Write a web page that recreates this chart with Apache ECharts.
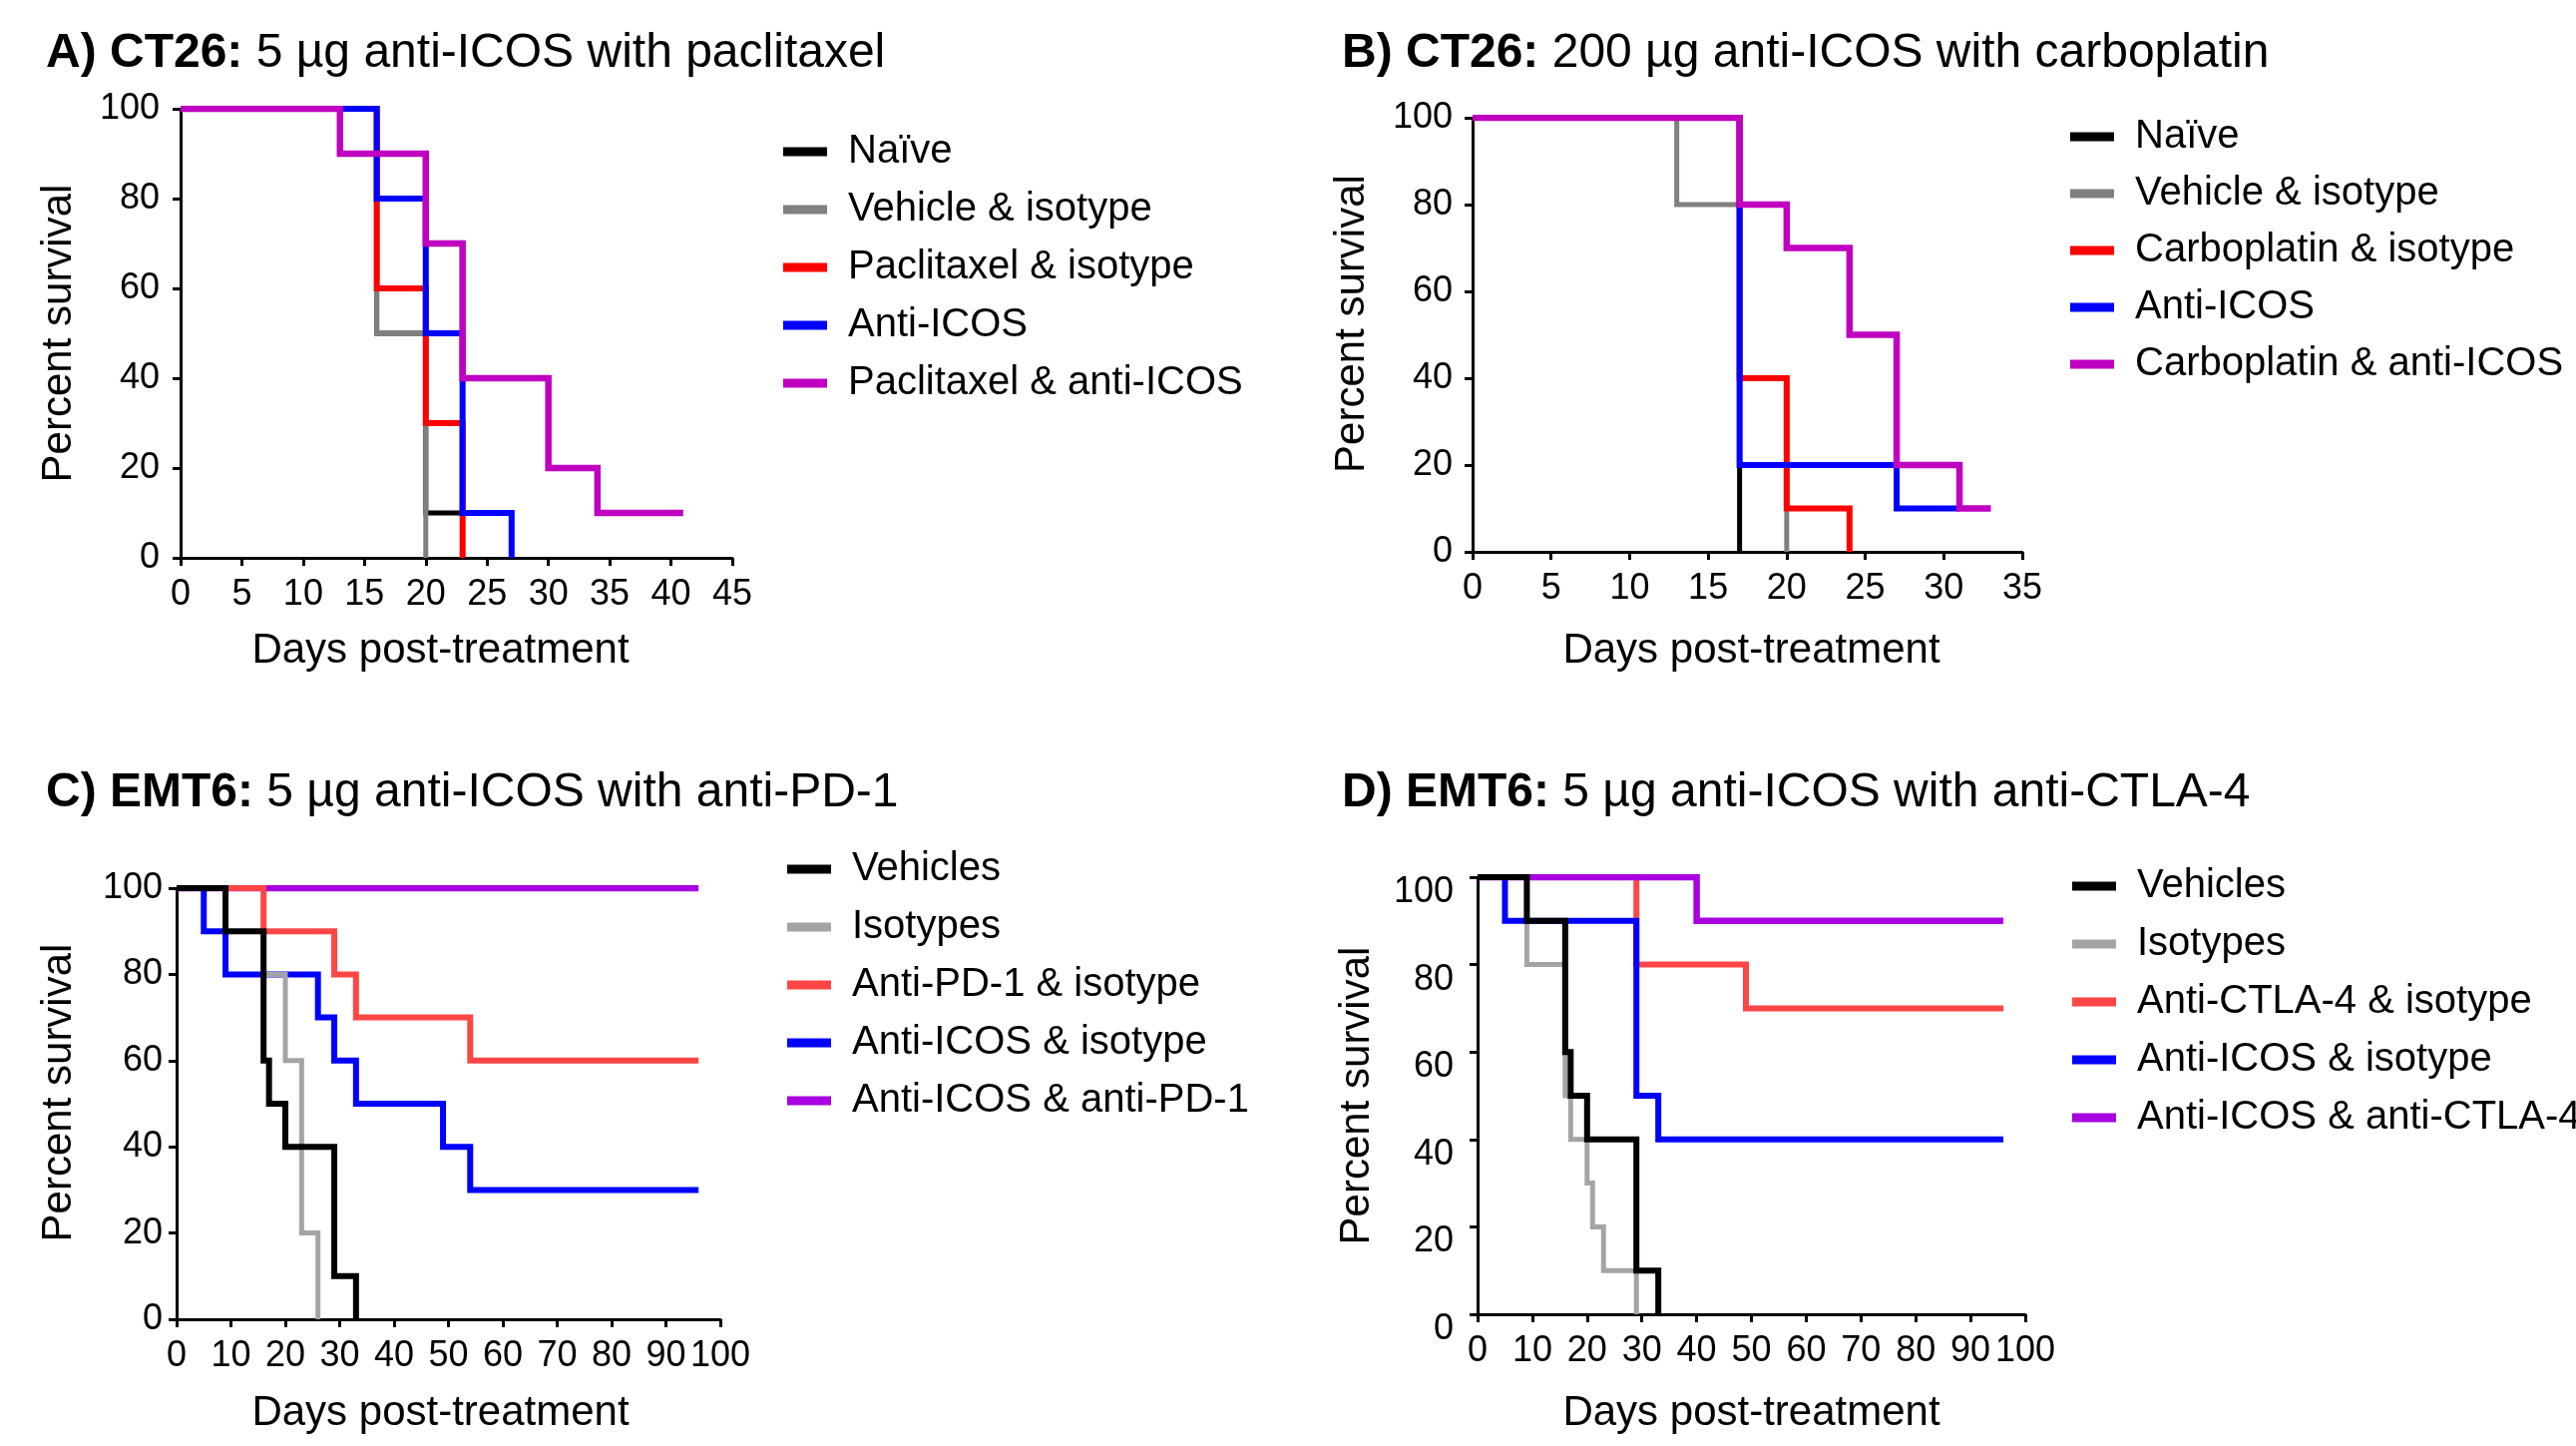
<!DOCTYPE html>
<html>
<head>
<meta charset="utf-8">
<script src="https://cdn.jsdelivr.net/npm/echarts@6/dist/echarts.min.js"></script>
<style>
html,body{margin:0;padding:0;background:#fff;}
#chart{width:2582px;height:1449px;}
</style>
</head>
<body>
<div id="chart"></div>
<script>
// ---------- Data (days, percent survival) ----------
// Panel A: CT26, 5 µg anti-ICOS with paclitaxel
const namesA = ["Naïve", "Vehicle & isotype", "Paclitaxel & isotype", "Anti-ICOS", "Paclitaxel & anti-ICOS"];
const a_naive   = [[0,100],[16,50],[20,10],[23,0]];
const a_vehicle = [[0,100],[16,50],[20,0]];
const a_pacIso  = [[0,100],[16,60],[20,30],[23,0]];
const a_icos    = [[0,100],[16,80],[20,50],[23,10],[27,0]];
const a_pacIcos = [[0,100],[13,90],[20,70],[23,40],[30,20],[34,10],[41,10]];

// Panel B: CT26, 200 µg anti-ICOS with carboplatin
const namesB = ["Naïve", "Vehicle & isotype", "Carboplatin & isotype", "Anti-ICOS", "Carboplatin & anti-ICOS"];
const b_naive    = [[0,100],[17,0]];
const b_vehicle  = [[0,100],[13,80],[17,20],[20,0]];
const b_carbIso  = [[0,100],[17,40],[20,10],[24,0]];
const b_icos     = [[0,100],[17,20],[27,10],[31,10]];
const b_carbIcos = [[0,100],[17,80],[20,70],[24,50],[27,20],[31,10],[33,10]];

// Panel C: EMT6, 5 µg anti-ICOS with anti-PD-1
const namesC = ["Vehicles", "Isotypes", "Anti-PD-1 & isotype", "Anti-ICOS & isotype", "Anti-ICOS & anti-PD-1"];
const c_vehicles = [[0,100],[9,90],[16,60],[17,50],[20,40],[29,10],[33,0]];
const c_isotypes = [[0,100],[9,90],[16,80],[20,60],[23,20],[26,0]];
const c_pd1Iso   = [[0,100],[16,90],[29,80],[33,70],[54,60],[96,60]];
const c_icosIso  = [[0,100],[5,90],[9,80],[26,70],[29,60],[33,50],[49,40],[54,30],[96,30]];
const c_icosPd1  = [[0,100],[96,100]];

// Panel D: EMT6, 5 µg anti-ICOS with anti-CTLA-4
const namesD = ["Vehicles", "Isotypes", "Anti-CTLA-4 & isotype", "Anti-ICOS & isotype", "Anti-ICOS & anti-CTLA-4"];
const d_vehicles = [[0,100],[9,90],[16,60],[17,50],[20,40],[29,10],[33,0]];
const d_isotypes = [[0,100],[9,80],[16,50],[17,40],[20,30],[21,20],[23,10],[29,0]];
const d_ctlaIso  = [[0,100],[29,80],[49,70],[96,70]];
const d_icosIso  = [[0,100],[5,90],[29,50],[33,40],[96,40]];
const d_icosCtla = [[0,100],[40,90],[96,90]];

// Axis settings
const xMaxA = 45, xStepA = 5;
const xMaxB = 35, xStepB = 5;
const xMaxCD = 100, xStepCD = 10;
const yMax = 100, yStep = 20;

const titlesBold = ["A) CT26:", "B) CT26:", "C) EMT6:", "D) EMT6:"];
const titlesRest = ["5 µg anti-ICOS with paclitaxel", "200 µg anti-ICOS with carboplatin",
                    "5 µg anti-ICOS with anti-PD-1", "5 µg anti-ICOS with anti-CTLA-4"];

// ---------- Styling ----------
const FONT = "'Liberation Sans', Arial, Helvetica, sans-serif";
const colsAB = ["#000000", "#808080", "#ff0000", "#0000ff", "#c000c0"];
const colsCD = ["#000000", "#a4a4a8", "#ff4646", "#0000ff", "#a800e0"];
const widthsAB = [5, 5, 6, 6, 6.5];
const widthsCD = [6, 5, 6, 6, 6.5];

const grids = [
  {left:181, top:109, width:553, height:450},
  {left:1476, top:118, width:551, height:435},
  {left:177, top:890, width:545, height:432},
  {left:1481, top:879, width:549, height:438}
];

function xAxis(i, max, step, namePad, nameGap){
  return {
    type:'value', gridIndex:i, min:0, max:max, interval:step,
    axisLine:{show:true, onZero:false, lineStyle:{color:'#000', width:3}},
    axisTick:{show:true, length:8, lineStyle:{color:'#000', width:3}},
    axisLabel:{color:'#000', fontSize:36, fontFamily:FONT, margin:19, hideOverlap:false,
               showMinLabel:true, showMaxLabel:true},
    splitLine:{show:false},
    name:'Days post-treatment', nameLocation:'middle', nameGap:nameGap,
    nameTextStyle:{color:'#000', fontSize:42, fontFamily:FONT, padding:namePad}
  };
}
function yAxis(i, nameGap, margin, vAlign, namePad){
  return {
    type:'value', gridIndex:i, min:0, max:yMax, interval:yStep,
    axisLine:{show:true, onZero:false, lineStyle:{color:'#000', width:3}},
    axisTick:{show:true, length:8, lineStyle:{color:'#000', width:3}},
    axisLabel:{color:'#000', fontSize:36, fontFamily:FONT, margin:margin,
               verticalAlign:vAlign, lineHeight:30, hideOverlap:false},
    splitLine:{show:false},
    name:'Percent survival', nameLocation:'middle', nameGap:nameGap, nameRotate:90,
    nameTextStyle:{color:'#000', fontSize:42, fontFamily:FONT, padding:namePad}
  };
}

function mk(name, data, idx, color, width, z){
  return {
    type:'line', name:name, data:data, step:'end', symbol:'none',
    xAxisIndex:idx, yAxisIndex:idx, z:z,
    color:color,
    lineStyle:{color:color, width:width, cap:'butt', join:'miter'},
    itemStyle:{color:color},
    animation:false, silent:true
  };
}

const series = [];
const dataA = [a_naive, a_vehicle, a_pacIso, a_icos, a_pacIcos];
const dataB = [b_naive, b_vehicle, b_carbIso, b_icos, b_carbIcos];
const dataC = [c_vehicles, c_isotypes, c_pd1Iso, c_icosIso, c_icosPd1];
const dataD = [d_vehicles, d_isotypes, d_ctlaIso, d_icosIso, d_icosCtla];
const zA = [2,2,2,2,2];
const zB = [2,2,2,2,2];
const zC = [7,6,5,4,3];
const zD = [8,2,3,4,5];
dataA.forEach((d,k)=>series.push(mk(namesA[k], d, 0, colsAB[k], widthsAB[k], zA[k])));
dataB.forEach((d,k)=>series.push(mk(namesB[k], d, 1, colsAB[k], widthsAB[k], zB[k])));
dataC.forEach((d,k)=>series.push(mk(namesC[k], d, 2, colsCD[k], widthsCD[k], zC[k])));
dataD.forEach((d,k)=>series.push(mk(namesD[k], d, 3, colsCD[k], widthsCD[k], zD[k])));

function legend(names, left, top, gap){
  return {
    orient:'vertical', left:left, top:top, itemGap:gap,
    itemWidth:44, itemHeight:9, icon:'rect',
    selectedMode:false, data:names,
    textStyle:{color:'#000', fontSize:40, fontFamily:FONT, lineHeight:40, padding:[0,0,0,16]}
  };
}

function title(i, left, top){
  return {
    left:left, top:top,
    text:'{b|' + titlesBold[i] + '\u00a0}{r|' + titlesRest[i] + '}',
    textStyle:{
      rich:{
        b:{fontSize:48, fontWeight:'bold', fontFamily:FONT, color:'#000', lineHeight:56},
        r:{fontSize:48, fontWeight:'normal', fontFamily:FONT, color:'#000', lineHeight:56}
      }
    }
  };
}

const option = {
  backgroundColor:'#ffffff',
  animation:false,
  title:[title(0,41,21), title(1,1340,21), title(2,41,762), title(3,1340,762)],
  grid:grids.map(g=>Object.assign({containLabel:false}, g)),
  xAxis:[xAxis(0,xMaxA,xStepA,[0,32,0,0],72), xAxis(1,xMaxB,xStepB,[0,0,0,8],78),
         xAxis(2,xMaxCD,xStepCD,[0,16,0,0],73), xAxis(3,xMaxCD,xStepCD,[0,0,0,0],78)],
  yAxis:[yAxis(0,101,21,'middle',[0,0,0,0]), yAxis(1,100,20,'middle',[0,0,0,22]),
         yAxis(2,97,14,'middle',[0,0,0,22]), yAxis(3,100,24,'top',[0,0,0,0])],
  legend:[legend(namesA,780,127,18), legend(namesB,2070,112,17), legend(namesC,784,846,18), legend(namesD,2072,863,18)],
  series:series
};

const chart = echarts.init(document.getElementById('chart'), null, {renderer:'canvas'});
chart.setOption(option);
</script>
</body>
</html>
